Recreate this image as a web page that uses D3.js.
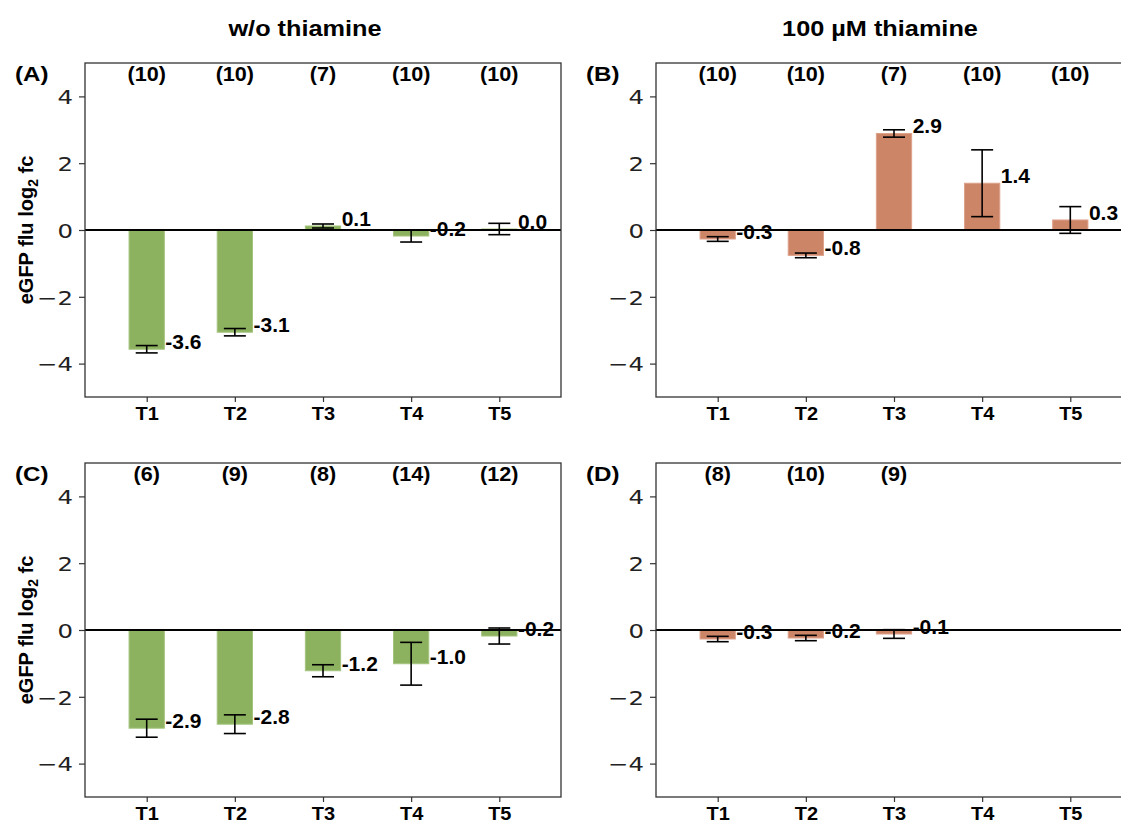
<!DOCTYPE html>
<html>
<head>
<meta charset="utf-8">
<script src="https://cdn.jsdelivr.net/npm/d3@7"></script>
<style>
  html, body { margin: 0; padding: 0; background: #fff; overflow: hidden; }
  svg { display: block; }
</style>
</head>
<body>
<svg id="chart"></svg>
<script>
// data
const categories = ['T1', 'T2', 'T3', 'T4', 'T5'];

const meansA = [-3.57, -3.06, 0.12, -0.18, 0.03];
const errA   = [0.11, 0.11, 0.06, 0.18, 0.17];
const countsA = [10, 10, 7, 10, 10];

const meansB = [-0.27, -0.76, 2.89, 1.40, 0.30];
const errB   = [0.07, 0.07, 0.11, 1.00, 0.40];
const countsB = [10, 10, 7, 10, 10];

const meansC = [-2.94, -2.82, -1.22, -1.01, -0.18];
const errC   = [0.27, 0.28, 0.18, 0.64, 0.24];
const countsC = [6, 9, 8, 14, 12];

const meansD = [-0.27, -0.24, -0.12, null, null];
const errD   = [0.08, 0.08, 0.13, null, null];
const countsD = [8, 10, 9, null, null];

const columnTitles = ['w/o thiamine', '100 µM thiamine'];
const yTicks = [-4, -2, 0, 2, 4];

const GREEN = '#8db25f', GREEN_EDGE = '#a3c47e';
const ORANGE = '#cd8568', ORANGE_EDGE = '#dea18b';

const width = 1121, height = 826;
const svg = d3.select('#chart').attr('width', width).attr('height', height);

const BOLD = '"Liberation Sans", Arial, Helvetica, sans-serif';
const TICKFONT = '"DejaVu Sans", sans-serif';

const panels = [
  { id: '(A)', means: meansA, err: errA, counts: countsA, x: 85,  y: 63,  fill: GREEN,  edge: GREEN_EDGE,  ylabel: true },
  { id: '(B)', means: meansB, err: errB, counts: countsB, x: 656, y: 63,  fill: ORANGE, edge: ORANGE_EDGE, ylabel: false },
  { id: '(C)', means: meansC, err: errC, counts: countsC, x: 85,  y: 463, fill: GREEN,  edge: GREEN_EDGE,  ylabel: true },
  { id: '(D)', means: meansD, err: errD, counts: countsD, x: 656, y: 463, fill: ORANGE, edge: ORANGE_EDGE, ylabel: false }
];
const pw = 476, ph = 334;

// text with a little horizontal stretch like the source
function stretchText(g, x, y, txt, opts) {
  return g.append('text')
    .attr('transform', `translate(${x},${y}) scale(${opts.sx || 1},1)`)
    .attr('text-anchor', opts.anchor || 'start')
    .style('font-family', opts.family || BOLD)
    .style('font-weight', opts.weight || 'bold')
    .style('font-size', opts.size + 'px')
    .attr('fill', '#000')
    .text(txt);
}

// column titles
stretchText(svg, 305, 36, columnTitles[0], { size: 22, sx: 1.15, anchor: 'middle' });
stretchText(svg, 880, 36, columnTitles[1], { size: 22, sx: 1.15, anchor: 'middle' });

panels.forEach(p => {
  const g = svg.append('g').attr('transform', `translate(${p.x},${p.y})`);

  const x = d3.scalePoint().domain(categories).range([0, pw]).padding(0.7);
  const y = d3.scaleLinear().domain([-5, 5]).range([ph, 0]);
  const bw = x.step() * 0.4;

  const rows = categories.map((c, i) => ({ cat: c, mean: p.means[i], err: p.err[i], n: p.counts[i] }))
                         .filter(d => d.mean !== null);

  // bars
  g.selectAll('rect.bar').data(rows).join('rect')
    .attr('class', 'bar')
    .attr('x', d => x(d.cat) - bw / 2)
    .attr('width', bw)
    .attr('y', d => y(Math.max(0, d.mean)))
    .attr('height', d => Math.abs(y(d.mean) - y(0)))
    .attr('fill', p.fill)
    .attr('stroke', p.edge)
    .attr('stroke-width', 1);

  // zero line
  g.append('line')
    .attr('x1', 0).attr('x2', pw)
    .attr('y1', y(0)).attr('y2', y(0))
    .attr('stroke', '#000').attr('stroke-width', 2);

  // error bars
  const eb = g.selectAll('g.err').data(rows).join('g').attr('class', 'err')
    .attr('stroke', '#000').attr('stroke-width', 1.6);
  eb.append('line')
    .attr('x1', d => x(d.cat)).attr('x2', d => x(d.cat))
    .attr('y1', d => y(d.mean + d.err)).attr('y2', d => y(d.mean - d.err));
  eb.append('line')
    .attr('x1', d => x(d.cat) - 11).attr('x2', d => x(d.cat) + 11)
    .attr('y1', d => y(d.mean + d.err)).attr('y2', d => y(d.mean + d.err));
  eb.append('line')
    .attr('x1', d => x(d.cat) - 11).attr('x2', d => x(d.cat) + 11)
    .attr('y1', d => y(d.mean - d.err)).attr('y2', d => y(d.mean - d.err));

  // value labels
  rows.forEach(d => {
    stretchText(g, x(d.cat) + bw / 2 + 1, y(d.mean), d.mean.toFixed(1), { size: 20, sx: 1.05 });
  });

  // counts on top
  rows.forEach(d => {
    stretchText(g, x(d.cat), 18, `(${d.n})`, { size: 20, sx: 1.08, anchor: 'middle' });
  });

  // axes
  const yAxis = d3.axisLeft(y).tickValues(yTicks).tickSize(6).tickPadding(6);
  const ya = g.append('g').call(yAxis);
  ya.select('.domain').remove();
  ya.selectAll('.tick line').attr('stroke', '#333').attr('stroke-width', 1.2);
  ya.selectAll('.tick text')
    .attr('x', null).attr('dy', '0.36em')
    .attr('transform', 'translate(-12,0) scale(1.22,1)')
    .style('font-family', TICKFONT).style('font-size', '20px').attr('fill', '#222');

  const xAxis = d3.axisBottom(x).tickSize(5).tickPadding(6);
  const xa = g.append('g').attr('transform', `translate(0,${ph})`).call(xAxis);
  xa.select('.domain').remove();
  xa.selectAll('.tick line').attr('stroke', '#333').attr('stroke-width', 1.2);
  xa.selectAll('.tick text')
    .attr('y', null).attr('dy', null)
    .attr('transform', 'translate(0,23) scale(1.05,1)')
    .style('font-family', BOLD).style('font-weight', 'bold').style('font-size', '19px').attr('fill', '#000');

  // spines
  g.append('rect')
    .attr('width', pw).attr('height', ph)
    .attr('fill', 'none').attr('stroke', '#333').attr('stroke-width', 1.3);

  // panel letter
  stretchText(svg, p.x - 70, p.y + 18, p.id, { size: 21, sx: 1.15 });

  // y label
  if (p.ylabel) {
    const t = svg.append('text')
      .attr('transform', `translate(33,${p.y + ph / 2}) rotate(-90)`)
      .attr('text-anchor', 'middle')
      .style('font-family', BOLD).style('font-weight', 'bold').style('font-size', '20px');
    t.append('tspan').text('eGFP flu log');
    t.append('tspan').attr('dy', 5).style('font-size', '14px').text('2');
    t.append('tspan').attr('dy', -5).text(' fc');
  }
});
</script>
</body>
</html>
